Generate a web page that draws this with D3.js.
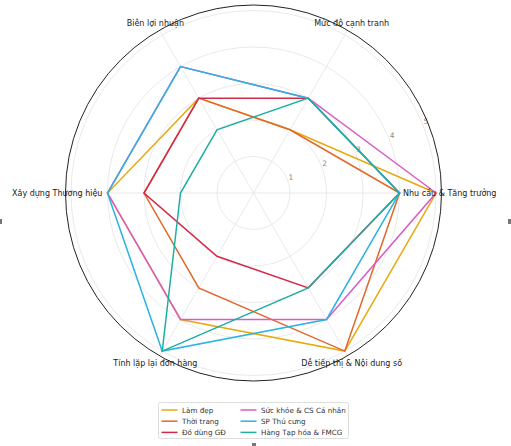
<!DOCTYPE html>
<html>
<head>
<meta charset="utf-8">
<script src="https://cdn.jsdelivr.net/npm/d3@7"></script>
<style>
    body { margin: 0; background: #fff; }
    svg { display: block; font-family: "DejaVu Sans", sans-serif; }
    .grid_ring, .grid_spoke { fill: none; stroke: #e3e3e3; stroke-width: 0.8; }
    .outer_ring { fill: none; stroke: #222; stroke-width: 1; }
    .tick_label { fill: #8a8a8a; font-size: 7.5px; }
    .axis_label { fill: #222; font-size: 8px; }
    .series_line { fill: none; stroke-width: 1.5; stroke-linejoin: miter; }
    .legend_box { fill: #fff; stroke: #d6d6d6; stroke-width: 0.8; }
    .legend_text { fill: #333; font-size: 7.2px; }
    .edge_mark { fill: #777; }
</style>
</head>
<body>
<div id="chart"></div>
<script>

const width = 511;
const height = 446;

// axes go counter-clockwise from the right, like the polar plot
const axis_labels = [
    "Nhu cầu & Tăng trưởng",
    "Mức độ cạnh tranh",
    "Biên lợi nhuận",
    "Xây dựng Thương hiệu",
    "Tính lặp lại đơn hàng",
    "Dễ tiếp thị & Nội dung số"
];

const series_names = [
    "Làm đẹp",
    "Thời trang",
    "Đồ dùng GĐ",
    "Sức khỏe & CS Cá nhân",
    "SP Thú cưng",
    "Hàng Tạp hóa & FMCG"
];

const lam_dep   = [5, 2, 3, 4, 4, 5];
const thoi_trang = [4, 2, 3, 3, 3, 5];
const do_dung   = [4, 3, 3, 3, 2, 3];
const suc_khoe  = [5, 3, 4, 4, 4, 4];
const thu_cung  = [4, 3, 4, 4, 5, 4];
const tap_hoa   = [4, 3, 2, 2, 5, 3];

const series_values = [lam_dep, thoi_trang, do_dung, suc_khoe, thu_cung, tap_hoa];

const tick_values = [1, 2, 3, 4, 5];
const r_max = 5.15;

const palette = ["#e8a911", "#e2672a", "#d42a4a", "#da5bc8", "#2db3e2", "#1db0a2"];

class RadarChart {

    constructor(container, width, height) {
        this.cx = 253.5;
        this.cy = 193;
        this.radius = 188;

        this.r = d3.scaleLinear()
                   .domain([0, r_max])
                   .range([0, this.radius]);

        // matplotlib theta (ccw from east) -> d3 angle (cw from north)
        this.angle = d3.scalePoint()
                       .domain(d3.range(axis_labels.length + 1))
                       .range([0, 2 * Math.PI]);

        this.svg = d3.select(container).append('svg')
                     .attr('width', width)
                     .attr('height', height)
                     .attr('viewBox', [0, 0, width, height]);

        this.plot = this.svg.append('g')
                        .attr('transform', "translate(" + this.cx + "," + this.cy + ")");
    }

    d3Angle(i) {
        return Math.PI / 2 - this.angle(i);
    }

    point(i, v) {
        const a = this.d3Angle(i);
        return [this.r(v) * Math.sin(a), -this.r(v) * Math.cos(a)];
    }

    drawGrid() {
        const self = this;

        this.plot.append('g')
            .selectAll('circle.grid_ring')
            .data(tick_values)
            .join('circle')
            .classed('grid_ring', true)
            .attr('r', function(d) { return self.r(d); });

        this.plot.append('g')
            .selectAll('line.grid_spoke')
            .data(d3.range(axis_labels.length))
            .join('line')
            .classed('grid_spoke', true)
            .attr('x1', 0)
            .attr('y1', 0)
            .attr('x2', function(d) { return self.point(d, r_max)[0]; })
            .attr('y2', function(d) { return self.point(d, r_max)[1]; });

        // radial tick labels sit at 22.5 degrees
        const lab_a = Math.PI / 2 - Math.PI / 8;
        this.plot.append('g')
            .selectAll('text.tick_label')
            .data(tick_values)
            .join('text')
            .classed('tick_label', true)
            .attr('text-anchor', 'middle')
            .attr('dy', '.35em')
            .attr('x', function(d) { return (self.r(d) + 4) * Math.sin(lab_a); })
            .attr('y', function(d) { return -(self.r(d) + 4) * Math.cos(lab_a); })
            .text(function(d) { return d; });
    }

    drawLabels() {
        const self = this;
        this.plot.append('g')
            .selectAll('text.axis_label')
            .data(axis_labels)
            .join('text')
            .classed('axis_label', true)
            .attr('text-anchor', 'middle')
            .attr('dy', '.35em')
            .attr('x', function(d, i) { return self.point(i, r_max)[0] * 1.044; })
            .attr('y', function(d, i) { return self.point(i, r_max)[1] * 1.044; })
            .text(function(d) { return d; });
    }

    drawSeries() {
        const self = this;
        const line = d3.lineRadial()
                       .angle(function(d, i) { return self.d3Angle(i); })
                       .radius(function(d) { return self.r(d); })
                       .curve(d3.curveLinearClosed);

        this.plot.append('g')
            .selectAll('path.series_line')
            .data(series_values)
            .join('path')
            .classed('series_line', true)
            .attr('stroke', function(d, i) { return palette[i]; })
            .attr('d', line);

        this.plot.append('circle')
            .classed('outer_ring', true)
            .attr('r', this.radius);
    }

    drawLegend() {
        const lg = this.svg.append('g')
                       .attr('transform', "translate(158.5,402.5)");

        lg.append('rect')
          .classed('legend_box', true)
          .attr('width', 190)
          .attr('height', 36)
          .attr('rx', 2);

        const item = lg.selectAll('g.legend_item')
                       .data(series_names)
                       .join('g')
                       .classed('legend_item', true)
                       .attr('transform', function(d, i) {
                           const col = Math.floor(i / 3);
                           const row = i % 3;
                           return "translate(" + (3 + col * 79) + "," + (7.5 + row * 11.2) + ")";
                       });

        item.append('line')
            .attr('x1', 0)
            .attr('x2', 16)
            .attr('stroke', function(d, i) { return palette[i]; })
            .attr('stroke-width', 1.5);

        item.append('text')
            .classed('legend_text', true)
            .attr('x', 20.5)
            .attr('dy', '.35em')
            .text(function(d) { return d; });
    }

    drawEdgeMarks() {
        // small clipped marks at the figure edges
        const marks = [[0, 219, 2, 5], [508, 219, 3, 5], [252, 443, 4, 3]];
        this.svg.append('g')
            .selectAll('rect.edge_mark')
            .data(marks)
            .join('rect')
            .classed('edge_mark', true)
            .attr('x', function(d) { return d[0]; })
            .attr('y', function(d) { return d[1]; })
            .attr('width', function(d) { return d[2]; })
            .attr('height', function(d) { return d[3]; });
    }
}

const chart = new RadarChart('#chart', width, height);
chart.drawGrid();
chart.drawSeries();
chart.drawLabels();
chart.drawLegend();
chart.drawEdgeMarks();

</script>
</body>
</html>
